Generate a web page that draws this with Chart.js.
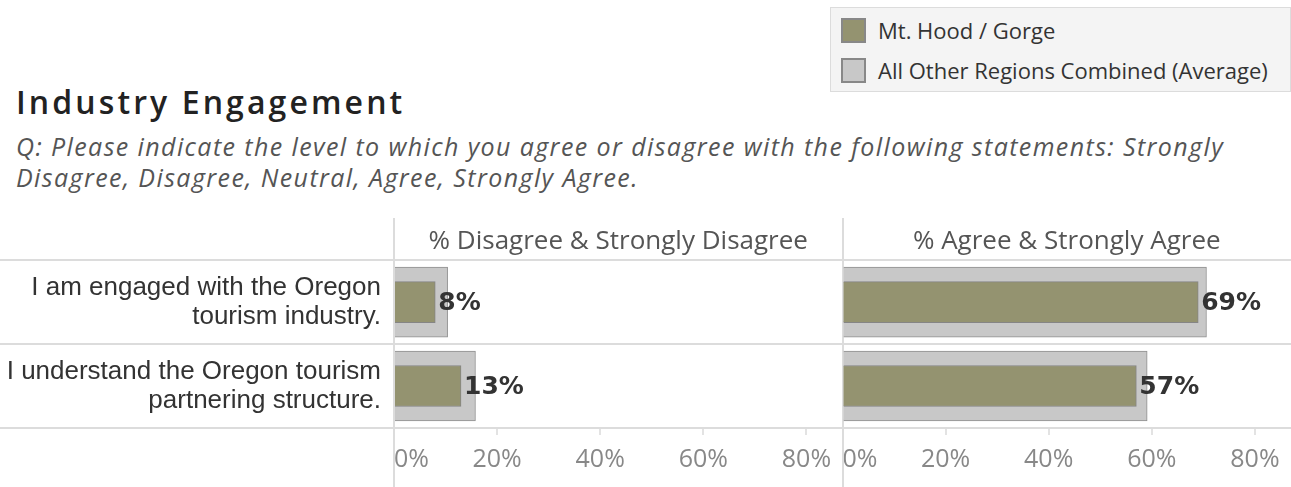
<!DOCTYPE html>
<html>
<head>
<meta charset="utf-8">
<title>Industry Engagement</title>
<script src="https://cdn.jsdelivr.net/npm/chart.js@4.4.1/dist/chart.umd.min.js"></script>
<style>
  body {
    margin: 0;
    width: 1291px;
    height: 487px;
    position: relative;
    overflow: hidden;
    background: #fff;
    font-family: 'Open Sans', sans-serif;
  }
  #legend {
    position: absolute;
    left: 830px;
    top: 7px;
    width: 461px;
    height: 85px;
    box-sizing: border-box;
    background: #f4f4f4;
    border: 1px solid #dcdcdc;
    z-index: 2;
  }
  #legend ul {
    list-style: none;
    margin: 0;
    padding: 2px 0 0 10px;
  }
  #legend li {
    display: flex;
    align-items: center;
    height: 40px;
    font-size: 22px;
    color: #333;
  }
  #legend li span {
    display: inline-block;
    width: 25px;
    height: 25px;
    box-sizing: border-box;
    border: 2px solid #888;
    margin-right: 12px;
  }
  h1 {
    position: absolute;
    left: 16px;
    top: 86px;
    margin: 0;
    font-size: 32px;
    line-height: 31px;
    font-weight: 600;
    letter-spacing: 3.1px;
    color: #222;
  }
  .question {
    position: absolute;
    left: 16px;
    top: 131px;
    margin: 0;
    font-size: 25px;
    line-height: 31px;
    font-style: italic;
    letter-spacing: 1.4px;
    color: #555;
    white-space: nowrap;
  }
  #chartBox {
    position: absolute;
    left: 0;
    top: 218px;
    width: 1301px;
    height: 269px;
  }
</style>
</head>
<body>
<div id="legend"><ul id="legendList"></ul></div>
<h1>Industry Engagement</h1>
<p class="question">Q: Please indicate the level to which you agree or disagree with the following statements: Strongly<br>Disagree, Disagree, Neutral, Agree, Strongly Agree.</p>
<div id="chartBox"><canvas id="engagementChart"></canvas></div>

<script>
// statements (two lines each)
const statements = [
    ['I am engaged with the Oregon', 'tourism industry.'],
    ['I understand the Oregon tourism', 'partnering structure.']
];
const panelTitles = ['% Disagree & Strongly Disagree', '% Agree & Strongly Agree'];
const seriesNames = ['Mt. Hood / Gorge', 'All Other Regions Combined (Average)'];

// percent of respondents
const hoodDisagree = [8, 13];
const hoodAgree = [69, 57];
const otherDisagree = [10.4, 15.8];
const otherAgree = [70.6, 59.1];

const axisMax = 87;
const hoodColor = '#949370';
const otherColor = '#c8c8c8';
const lineColor = '#dcdcdc';

// builds the html legend from the chart's own legend items
const htmlLegend = {
    id: 'htmlLegend',
    afterUpdate(chart) {
        const list = document.getElementById('legendList');
        list.innerHTML = '';
        const seen = new Set();
        chart.options.plugins.legend.labels.generateLabels(chart).forEach(item => {
            if (seen.has(item.text)) return;
            seen.add(item.text);
            const li = document.createElement('li');
            const box = document.createElement('span');
            box.style.background = item.fillStyle;
            li.appendChild(box);
            li.appendChild(document.createTextNode(item.text));
            list.appendChild(li);
        });
    }
};

// row separators across the whole width, plus the panel edges
const panelLines = {
    id: 'panelLines',
    beforeDatasetsDraw(chart) {
        const { ctx, width, height } = chart;
        const y = chart.scales.y;
        const band = y.getPixelForValue(1) - y.getPixelForValue(0);
        ctx.save();
        ctx.strokeStyle = lineColor;
        ctx.lineWidth = 2;
        for (let i = 0; i <= statements.length; i++) {
            const py = Math.round(y.getPixelForValue(0) - band / 2 + i * band);
            ctx.beginPath();
            ctx.moveTo(0, py);
            ctx.lineTo(width, py);
            ctx.stroke();
        }
        ['x', 'x2'].forEach(id => {
            const px = Math.round(chart.scales[id].left);
            ctx.beginPath();
            ctx.moveTo(px, 0);
            ctx.lineTo(px, height);
            ctx.stroke();
        });
        ctx.restore();
    }
};

// percentage printed at the end of each Mt. Hood bar
const valueLabels = {
    id: 'valueLabels',
    afterDatasetsDraw(chart) {
        const { ctx } = chart;
        ctx.save();
        ctx.font = 'bold 25px "DejaVu Sans"';
        ctx.fillStyle = '#333';
        ctx.textBaseline = 'middle';
        chart.data.datasets.forEach((ds, i) => {
            if (!ds.showValue) return;
            chart.getDatasetMeta(i).data.forEach((bar, j) => {
                ctx.fillText(ds.data[j] + '%', bar.x + 3, bar.y + 1);
            });
        });
        ctx.restore();
    }
};

function valueAxis() {
    return {
        type: 'linear',
        position: 'bottom',
        stack: 'panels',
        stackWeight: 1,
        min: 0,
        max: axisMax,
        grid: {
            drawOnChartArea: false,
            drawTicks: true,
            tickLength: 7,
            lineWidth: 2,
            color: ctx => (ctx.tick && ctx.tick.value === axisMax) ? 'rgba(0,0,0,0)' : '#e3e3e3'
        },
        border: { display: false },
        // extra tick at the panel edge so 'inner' keeps 80% centred
        afterBuildTicks: scale => { scale.ticks.push({ value: axisMax }); },
        ticks: {
            stepSize: 20,
            includeBounds: false,
            align: 'inner',
            autoSkip: false,
            maxRotation: 0,
            padding: 10,
            color: '#888',
            font: { family: 'Open Sans', size: 25 },
            callback: v => v === axisMax ? '' : v + '%'
        }
    };
}

function headerAxis(text) {
    return {
        type: 'linear',
        position: 'top',
        stack: 'headers',
        stackWeight: 1,
        grid: { display: false, drawTicks: false },
        border: { display: false },
        ticks: { display: false },
        title: {
            display: true,
            text: text,
            color: '#555',
            font: { family: 'Open Sans', size: 26 },
            padding: { top: 3, bottom: 3 }
        }
    };
}

const ctx = document.getElementById('engagementChart').getContext('2d');
const engagementChart = new Chart(ctx, {
    type: 'bar',
    data: {
        labels: statements,
        datasets: [
            {
                label: seriesNames[0],
                data: hoodDisagree,
                xAxisID: 'x',
                backgroundColor: hoodColor,
                borderColor: '#858585',
                borderWidth: 1,
                barThickness: 41,
                grouped: false,
                order: 0,
                showValue: true
            },
            {
                label: seriesNames[1],
                data: otherDisagree,
                xAxisID: 'x',
                backgroundColor: otherColor,
                borderColor: '#8f8f8f',
                borderWidth: 1,
                barThickness: 70,
                grouped: false,
                order: 1
            },
            {
                label: seriesNames[0],
                data: hoodAgree,
                xAxisID: 'x2',
                backgroundColor: hoodColor,
                borderColor: '#858585',
                borderWidth: 1,
                barThickness: 41,
                grouped: false,
                order: 0,
                showValue: true
            },
            {
                label: seriesNames[1],
                data: otherAgree,
                xAxisID: 'x2',
                backgroundColor: otherColor,
                borderColor: '#8f8f8f',
                borderWidth: 1,
                barThickness: 70,
                grouped: false,
                order: 1
            }
        ]
    },
    options: {
        indexAxis: 'y',
        responsive: true,
        maintainAspectRatio: false,
        animation: false,
        layout: { padding: { left: 0, right: 0, top: 0, bottom: 2 } },
        plugins: {
            legend: { display: false },
            tooltip: { enabled: false }
        },
        scales: {
            y: {
                type: 'category',
                position: 'left',
                grid: { display: false, drawTicks: false },
                border: { display: false },
                ticks: {
                    padding: 13,
                    color: '#333',
                    font: { family: 'Arial, "Liberation Sans"', size: 26, lineHeight: 1.12 }
                },
                afterFit: scale => { scale.width = 394; }
            },
            x: valueAxis(),
            x2: valueAxis(),
            // top boxes get placed in reverse, so the right header comes first
            headRight: headerAxis(panelTitles[1]),
            headLeft: headerAxis(panelTitles[0])
        }
    },
    plugins: [htmlLegend, panelLines, valueLabels]
});
</script>
</body>
</html>
